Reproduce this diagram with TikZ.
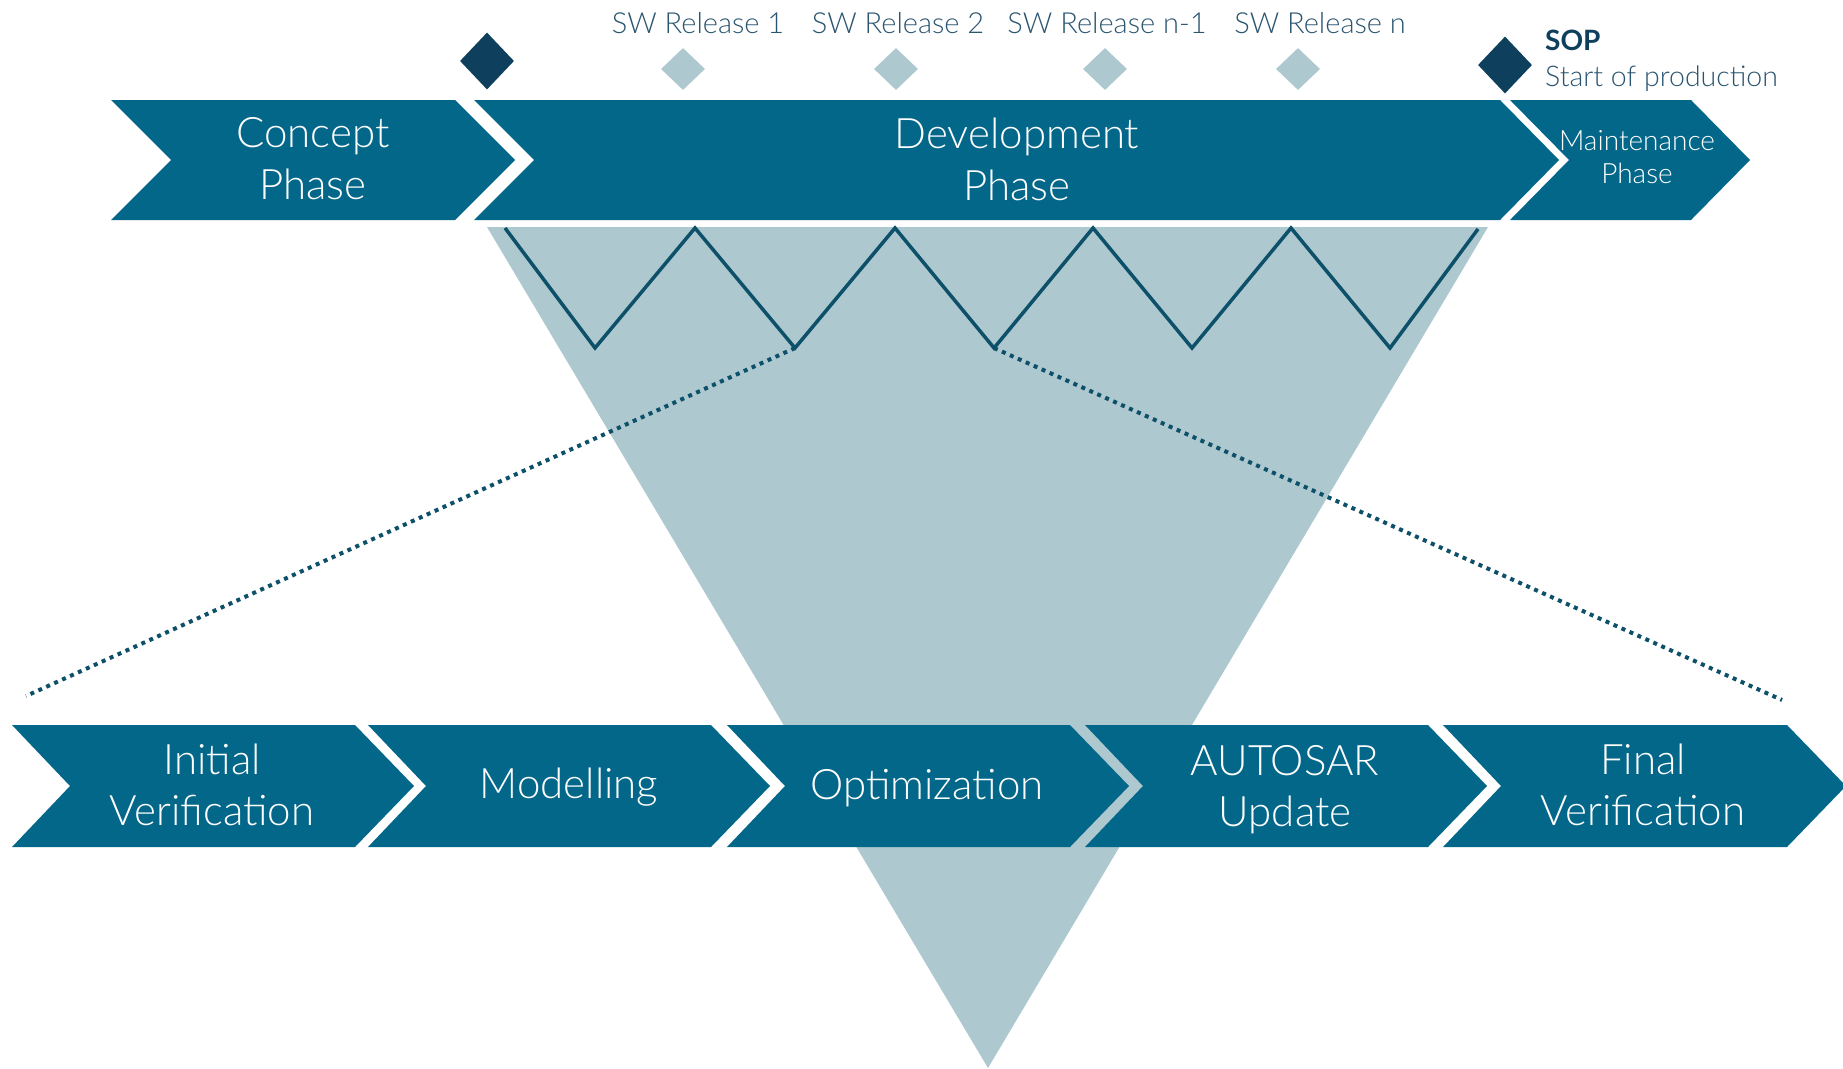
\documentclass[tikz,border=0pt]{standalone}
\usepackage{fontspec}
\IfFontExistsTF{Lato Light}{\setmainfont{Lato Light}}{\setmainfont{Lato}}
\newfontfamily\latoreg{Lato}
\usetikzlibrary{shapes.geometric}
\definecolor{arrowblue}{HTML}{03678A}
\definecolor{trigray}{HTML}{AEC8CF}
\definecolor{darkdia}{HTML}{0E405E}
\definecolor{zigcol}{HTML}{0D5069}
\definecolor{labelcol}{HTML}{2A5570}
\newcommand\chevshape[6]{%
  \fill[arrowblue] (#1,#5) -- (#3,#5) -- (#4,{(#5+#6)/2}) -- (#3,#6) -- (#1,#6) -- (#2,{(#5+#6)/2}) -- cycle;}
\begin{document}
\begin{tikzpicture}[x=1pt,y=-1pt,
  darkdiamond/.style={diamond,fill=darkdia,inner sep=0pt,minimum width=54pt,minimum height=57pt},
  lightdiamond/.style={diamond,fill=trigray,inner sep=0pt,minimum width=44pt,minimum height=42pt},
  zig/.style={draw=zigcol,line width=3.5pt,line join=miter},
  dotline/.style={draw=zigcol,line width=4pt,dash pattern=on 4pt off 4.7pt},
  biglabel/.style={text=white,align=center,inner sep=0pt,font=\fontsize{42}{52}\selectfont},
  smalllabel/.style={text=white,align=center,inner sep=0pt,font=\fontsize{28}{33}\selectfont},
  steplabel/.style={text=white,align=center,inner sep=0pt,font=\fontsize{42}{51}\selectfont},
  rellabel/.style={text=labelcol,inner sep=0pt,anchor=base,font=\fontsize{29}{34}\selectfont}]
\useasboundingbox (0,0) rectangle (1843,1068);
% funnel triangle
\fill[trigray] (487,227) -- (1488,227) -- (988,1068) -- cycle;
% zigzag
\coordinate (z0) at (505,228);
\coordinate (z1) at (595,348);
\coordinate (z2) at (695,228);
\coordinate (z3) at (795,348);
\coordinate (z4) at (895,228);
\coordinate (z5) at (994,348);
\coordinate (z6) at (1093,228);
\coordinate (z7) at (1192,348);
\coordinate (z8) at (1291,228);
\coordinate (z9) at (1390,348);
\coordinate (z10) at (1478,229);
\draw[zig] (z0) -- (z1) -- (z2) -- (z3) -- (z4) -- (z5) -- (z6) -- (z7) -- (z8) -- (z9) -- (z10);
% dotted zoom lines
\coordinate (dl) at (26,696);
\coordinate (dr) at (1782,700);
\draw[dotline] (z3) -- (dl);
\draw[dotline] (z5) -- (dr);
% top chevrons
\chevshape{111}{171}{455}{515}{100}{220}
\chevshape{474}{534}{1500}{1559}{100}{220}
\chevshape{1510}{1569}{1691}{1750}{100}{220}
\node[biglabel] (concept) at (313,159) {Concept\\Phase};
\node[biglabel] (devel) at (1017,159) {Development\\Phase};
\node[smalllabel] (maint) at (1637,157) {Maintenance\\Phase};
% milestones
\node[darkdiamond] (start) at (487,61) {};
\node[lightdiamond] (r1) at (683,69) {};
\node[lightdiamond] (r2) at (896,69) {};
\node[lightdiamond] (r3) at (1105,69) {};
\node[lightdiamond] (r4) at (1298,69) {};
\node[darkdiamond] (sop) at (1505,65) {};
\node[rellabel] (lr1) at (698,33) {SW Release 1};
\node[rellabel] (lr2) at (898,33) {SW Release 2};
\node[rellabel] (lr3) at (1107,33) {SW Release n-1};
\node[rellabel] (lr4) at (1320,33) {SW Release n};
\node[anchor=base west,inner sep=0pt,text=darkdia,font=\latoreg\bfseries\fontsize{28}{32}\selectfont] (soplabel) at (1545,50) {SOP};
\node[anchor=base west,inner sep=0pt,text=labelcol,font=\fontsize{28.5}{33}\selectfont] (sopdesc) at (1545,86) {Start of production};
% bottom chevrons
\chevshape{12}{70}{355}{414}{725}{847}
\chevshape{368}{426}{711}{770}{725}{847}
\chevshape{727}{785}{1070}{1129}{725}{847}
\chevshape{1085}{1143}{1428}{1487}{725}{847}
\chevshape{1443}{1501}{1787}{1846}{725}{847}
\node[steplabel] (s1) at (212,785) {Initial\\Verification};
\node[steplabel] (s2) at (569,787) {Modelling};
\node[steplabel] (s3) at (927,788) {Optimization};
\node[steplabel] (s4) at (1285,790) {AUTOSAR\\Update};
\node[steplabel] (s5) at (1643,785) {Final\\Verification};
\end{tikzpicture}
\end{document}
